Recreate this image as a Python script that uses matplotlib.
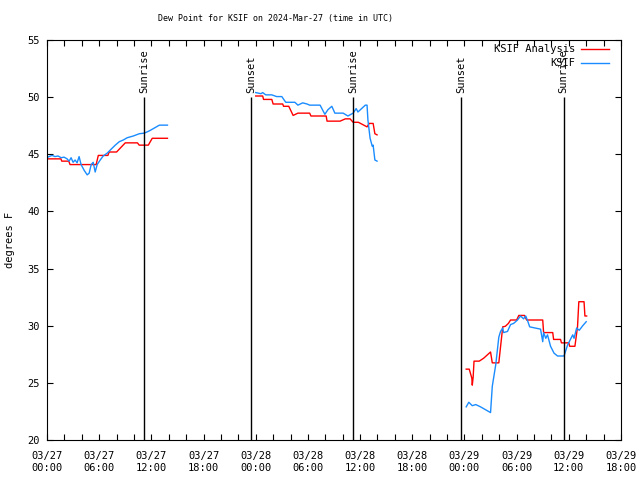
import matplotlib
matplotlib.use("Agg")
import matplotlib.pyplot as plt
from matplotlib.lines import Line2D
from matplotlib.ticker import MultipleLocator

# =========================
# DATOS (horas desde 03/27 00:00 UTC, grados F)
# =========================
ana_h1 = [0.0, 1.6, 1.7, 2.5, 2.65, 5.5, 5.65, 5.9, 7.0, 7.15, 8.0, 9.0, 10.4, 10.6, 11.65, 12.1, 13.85]
ana_v1 = [44.6, 44.6, 44.4, 44.4, 44.1, 44.1, 44.1, 44.9, 44.9, 45.2, 45.2, 46.0, 46.0, 45.8, 45.8, 46.4, 46.4]

ana_h2 = [24.0, 24.8, 24.9, 25.85, 26.0, 27.1, 27.2, 27.8, 28.3, 28.85, 30.2, 30.35, 32.1, 32.2,
          33.7, 34.3, 34.85, 35.2, 35.8, 36.8, 37.05, 37.5, 37.7, 37.95]
ana_v2 = [50.1, 50.1, 49.8, 49.8, 49.4, 49.4, 49.2, 49.2, 48.4, 48.6, 48.6, 48.35, 48.35, 47.9,
          47.9, 48.1, 48.1, 47.8, 47.8, 47.4, 47.7, 47.7, 46.8, 46.7]

ana_h3 = [48.2, 48.55, 48.85, 48.9, 49.0, 49.1, 49.7, 50.2, 51.0, 51.2, 51.95, 52.4, 52.7, 53.05,
          53.3, 54.0, 54.25, 54.9, 55.15, 57.0, 57.1, 58.15, 58.25, 59.05, 59.15, 60.0, 60.1,
          60.7, 61.0, 61.15, 61.75, 61.85, 62.05]
ana_v3 = [26.2, 26.2, 25.4, 24.8, 25.5, 26.9, 26.9, 27.15, 27.7, 26.75, 26.75, 29.9, 29.95, 30.2,
          30.5, 30.5, 30.9, 30.9, 30.5, 30.5, 29.4, 29.4, 28.8, 28.8, 28.5, 28.5, 28.2,
          28.2, 29.9, 32.1, 32.1, 30.85, 30.85]

obs_h1 = [0.0, 0.23, 0.58, 0.92, 1.27, 1.62, 1.96, 2.31, 2.54, 2.77, 3.0, 3.23, 3.46, 3.69, 3.92,
          4.27, 4.62, 4.85, 5.08, 5.31, 5.54, 5.77, 6.12, 6.46, 6.92, 7.38, 7.85, 8.31, 8.77,
          9.23, 9.92, 10.62, 11.19, 11.77, 12.35, 12.92, 13.85]
obs_v1 = [44.7, 44.8, 44.9, 44.8, 44.85, 44.7, 44.75, 44.6, 44.4, 44.7, 44.3, 44.5, 44.25, 44.8, 44.1,
          43.6, 43.2, 43.35, 44.1, 44.3, 43.45, 44.1, 44.5, 44.85, 45.1, 45.45, 45.8, 46.1, 46.25,
          46.45, 46.6, 46.8, 46.85, 47.05, 47.3, 47.55, 47.55]

obs_h2 = [24.0, 24.6, 24.8, 25.15, 25.85, 26.4, 27.0, 27.45, 28.5, 28.85, 29.4, 29.9, 30.2, 31.4,
          31.95, 32.3, 32.75, 33.1, 34.05, 34.6, 35.2, 35.55, 35.75, 36.6, 36.8, 36.9, 37.15,
          37.4, 37.5, 37.7, 37.95]
obs_v2 = [50.4, 50.3, 50.4, 50.2, 50.2, 50.05, 50.05, 49.55, 49.55, 49.3, 49.5, 49.4, 49.3, 49.3,
          48.5, 48.9, 49.2, 48.6, 48.6, 48.35, 48.6, 49.0, 48.7, 49.3, 49.3, 48.0, 46.4,
          45.7, 45.8, 44.5, 44.4]

obs_h3 = [48.2, 48.5, 48.9, 49.3, 49.85, 51.0, 51.2, 51.6, 51.95, 52.15, 52.4, 52.5, 52.95, 53.3,
          53.65, 54.1, 54.45, 54.8, 55.05, 55.3, 55.5, 56.75, 57.0, 57.1, 57.35, 57.55, 57.9,
          58.3, 58.7, 59.45, 59.85, 60.45, 60.6, 60.9, 61.2, 61.6, 62.0]
obs_v3 = [22.9, 23.3, 23.0, 23.1, 22.9, 22.4, 24.7, 26.6, 29.0, 29.5, 29.8, 29.4, 29.5, 30.1,
          30.2, 30.5, 30.85, 30.6, 30.85, 30.35, 29.9, 29.7, 28.6, 29.4, 28.9, 29.2, 28.2,
          27.6, 27.35, 27.35, 28.3, 29.2, 28.9, 29.8, 29.6, 30.0, 30.35]

eventos_h = [11.19, 23.48, 35.23, 47.6, 59.4]
eventos_txt = ["Sunrise", "Sunset", "Sunrise", "Sunset", "Sunrise"]

ticks_h = [0, 6, 12, 18, 24, 30, 36, 42, 48, 54, 60, 66]
ticks_txt = ["03/27\n00:00", "03/27\n06:00", "03/27\n12:00", "03/27\n18:00",
             "03/28\n00:00", "03/28\n06:00", "03/28\n12:00", "03/28\n18:00",
             "03/29\n00:00", "03/29\n06:00", "03/29\n12:00", "03/29\n18:00"]

# =========================
# FIGURA
# =========================
FUENTE = "DejaVu Sans Mono"
ROJO = "#ff0000"
AZUL = "#1a8cff"

fig = plt.figure(figsize=(6.4, 4.8), dpi=100)
ax = fig.add_axes([47 / 640, 40 / 480, 574 / 640, 400 / 480])

for h, v in [(ana_h1, ana_v1), (ana_h2, ana_v2), (ana_h3, ana_v3)]:
    ax.plot(h, v, color=ROJO, lw=1.0)
for h, v in [(obs_h1, obs_v1), (obs_h2, obs_v2), (obs_h3, obs_v3)]:
    ax.plot(h, v, color=AZUL, lw=1.0)

for h, txt in zip(eventos_h, eventos_txt):
    ax.vlines(h, 20, 50, color="black", lw=1.0)
    ax.text(h, 50.4, txt, rotation=90, ha="center", va="bottom",
            family=FUENTE, fontsize=7.5)

ax.set_xlim(0, 66)
ax.set_ylim(20, 55)
ax.set_xticks(ticks_h)
ax.set_xticklabels(ticks_txt, family=FUENTE, fontsize=7.5)
ax.xaxis.set_minor_locator(MultipleLocator(2))
ax.set_yticks(range(20, 56, 5))
ax.set_yticklabels([str(v) for v in range(20, 56, 5)], family=FUENTE, fontsize=7.5)
ax.tick_params(which="both", direction="in", top=True, right=True, length=4, width=0.8)
ax.tick_params(axis="x", which="major", pad=8)
ax.tick_params(axis="y", which="major", pad=5)
for s in ax.spines.values():
    s.set_linewidth(0.8)

ax.set_ylabel("degrees F", family=FUENTE, fontsize=7.5, labelpad=9)
fig.text(275 / 640, 1 - 19 / 480, "Dew Point for KSIF on 2024-Mar-27 (time in UTC)",
         ha="center", va="center", family=FUENTE, fontsize=6.0)

# leyenda manual, texto alineado a la derecha
for i, (etq, col) in enumerate([("KSIF Analysis", ROJO), ("KSIF", AZUL)]):
    y = 1 - (9 + 14 * i) / 400
    ax.text(1 - 46 / 574, y, etq, transform=ax.transAxes, ha="right", va="center",
            family=FUENTE, fontsize=7.5)
    ax.add_line(Line2D([1 - 40 / 574, 1 - 12 / 574], [y, y], transform=ax.transAxes,
                       color=col, lw=1.0))

fig.savefig("out.png", dpi=100)
